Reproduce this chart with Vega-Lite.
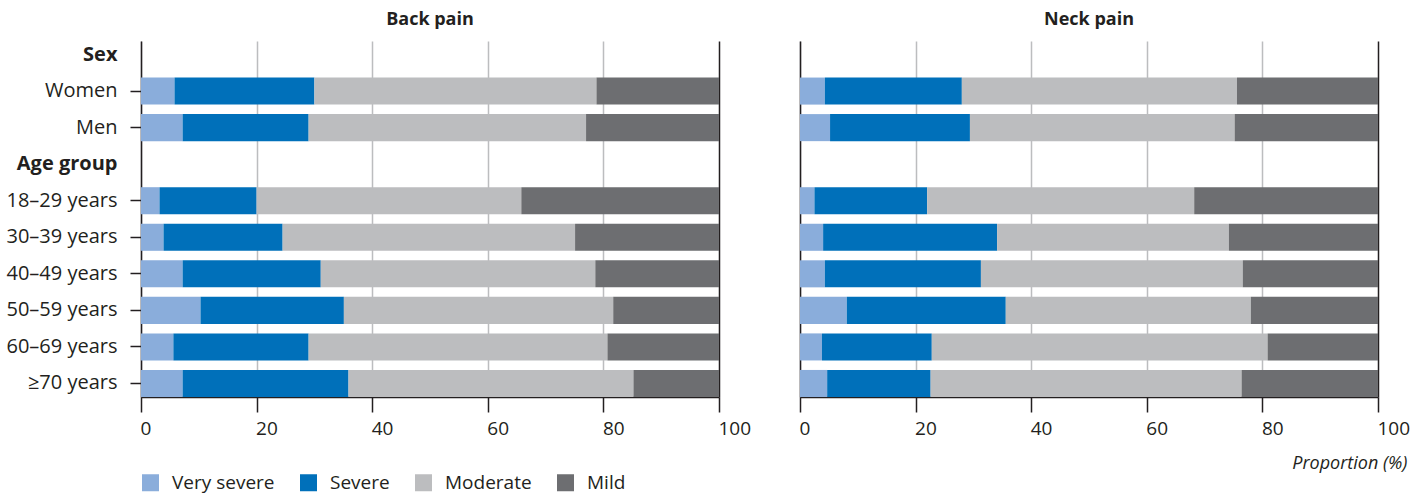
{
  "$schema": "https://vega.github.io/schema/vega-lite/v6.json",
  "padding": {"left": 5, "top": 11, "right": 20, "bottom": 0},
  "bounds": "flush",
  "spacing": 81,
  "config": {
    "font": "Open Sans",
    "view": {"stroke": null},
    "title": {"fontSize": 18, "fontWeight": "bold", "color": "#231f20", "offset": 12, "anchor": "middle"},
    "legend": {"orient": "bottom", "direction": "horizontal", "title": null, "symbolType": "square", "symbolSize": 289, "symbolStrokeWidth": 0, "labelFontSize": 19, "labelColor": "#231f20", "labelOffset": 12, "labelLimit": 400, "columnPadding": 24, "offset": 1, "padding": 0}
  },
  "datasets": {
    "d": [
      {"pain": "Back pain", "group": "Women", "severity": "Very severe", "ord": 1, "value": 5.8},
      {"pain": "Back pain", "group": "Women", "severity": "Severe", "ord": 2, "value": 24.2},
      {"pain": "Back pain", "group": "Women", "severity": "Moderate", "ord": 3, "value": 48.8},
      {"pain": "Back pain", "group": "Women", "severity": "Mild", "ord": 4, "value": 21.2},
      {"pain": "Back pain", "group": "Men", "severity": "Very severe", "ord": 1, "value": 7.2},
      {"pain": "Back pain", "group": "Men", "severity": "Severe", "ord": 2, "value": 21.8},
      {"pain": "Back pain", "group": "Men", "severity": "Moderate", "ord": 3, "value": 48.0},
      {"pain": "Back pain", "group": "Men", "severity": "Mild", "ord": 4, "value": 23.0},
      {"pain": "Back pain", "group": "18–29 years", "severity": "Very severe", "ord": 1, "value": 3.2},
      {"pain": "Back pain", "group": "18–29 years", "severity": "Severe", "ord": 2, "value": 16.8},
      {"pain": "Back pain", "group": "18–29 years", "severity": "Moderate", "ord": 3, "value": 45.8},
      {"pain": "Back pain", "group": "18–29 years", "severity": "Mild", "ord": 4, "value": 34.2},
      {"pain": "Back pain", "group": "30–39 years", "severity": "Very severe", "ord": 1, "value": 3.9},
      {"pain": "Back pain", "group": "30–39 years", "severity": "Severe", "ord": 2, "value": 20.6},
      {"pain": "Back pain", "group": "30–39 years", "severity": "Moderate", "ord": 3, "value": 50.6},
      {"pain": "Back pain", "group": "30–39 years", "severity": "Mild", "ord": 4, "value": 24.9},
      {"pain": "Back pain", "group": "40–49 years", "severity": "Very severe", "ord": 1, "value": 7.2},
      {"pain": "Back pain", "group": "40–49 years", "severity": "Severe", "ord": 2, "value": 23.9},
      {"pain": "Back pain", "group": "40–49 years", "severity": "Moderate", "ord": 3, "value": 47.5},
      {"pain": "Back pain", "group": "40–49 years", "severity": "Mild", "ord": 4, "value": 21.4},
      {"pain": "Back pain", "group": "50–59 years", "severity": "Very severe", "ord": 1, "value": 10.3},
      {"pain": "Back pain", "group": "50–59 years", "severity": "Severe", "ord": 2, "value": 24.8},
      {"pain": "Back pain", "group": "50–59 years", "severity": "Moderate", "ord": 3, "value": 46.6},
      {"pain": "Back pain", "group": "50–59 years", "severity": "Mild", "ord": 4, "value": 18.3},
      {"pain": "Back pain", "group": "60–69 years", "severity": "Very severe", "ord": 1, "value": 5.6},
      {"pain": "Back pain", "group": "60–69 years", "severity": "Severe", "ord": 2, "value": 23.4},
      {"pain": "Back pain", "group": "60–69 years", "severity": "Moderate", "ord": 3, "value": 51.7},
      {"pain": "Back pain", "group": "60–69 years", "severity": "Mild", "ord": 4, "value": 19.3},
      {"pain": "Back pain", "group": "≥70 years", "severity": "Very severe", "ord": 1, "value": 7.2},
      {"pain": "Back pain", "group": "≥70 years", "severity": "Severe", "ord": 2, "value": 28.7},
      {"pain": "Back pain", "group": "≥70 years", "severity": "Moderate", "ord": 3, "value": 49.3},
      {"pain": "Back pain", "group": "≥70 years", "severity": "Mild", "ord": 4, "value": 14.8},
      {"pain": "Neck pain", "group": "Women", "severity": "Very severe", "ord": 1, "value": 4.3},
      {"pain": "Neck pain", "group": "Women", "severity": "Severe", "ord": 2, "value": 23.7},
      {"pain": "Neck pain", "group": "Women", "severity": "Moderate", "ord": 3, "value": 47.6},
      {"pain": "Neck pain", "group": "Women", "severity": "Mild", "ord": 4, "value": 24.4},
      {"pain": "Neck pain", "group": "Men", "severity": "Very severe", "ord": 1, "value": 5.2},
      {"pain": "Neck pain", "group": "Men", "severity": "Severe", "ord": 2, "value": 24.2},
      {"pain": "Neck pain", "group": "Men", "severity": "Moderate", "ord": 3, "value": 45.8},
      {"pain": "Neck pain", "group": "Men", "severity": "Mild", "ord": 4, "value": 24.8},
      {"pain": "Neck pain", "group": "18–29 years", "severity": "Very severe", "ord": 1, "value": 2.5},
      {"pain": "Neck pain", "group": "18–29 years", "severity": "Severe", "ord": 2, "value": 19.5},
      {"pain": "Neck pain", "group": "18–29 years", "severity": "Moderate", "ord": 3, "value": 46.2},
      {"pain": "Neck pain", "group": "18–29 years", "severity": "Mild", "ord": 4, "value": 31.8},
      {"pain": "Neck pain", "group": "30–39 years", "severity": "Very severe", "ord": 1, "value": 4.0},
      {"pain": "Neck pain", "group": "30–39 years", "severity": "Severe", "ord": 2, "value": 30.1},
      {"pain": "Neck pain", "group": "30–39 years", "severity": "Moderate", "ord": 3, "value": 40.1},
      {"pain": "Neck pain", "group": "30–39 years", "severity": "Mild", "ord": 4, "value": 25.8},
      {"pain": "Neck pain", "group": "40–49 years", "severity": "Very severe", "ord": 1, "value": 4.3},
      {"pain": "Neck pain", "group": "40–49 years", "severity": "Severe", "ord": 2, "value": 27.0},
      {"pain": "Neck pain", "group": "40–49 years", "severity": "Moderate", "ord": 3, "value": 45.3},
      {"pain": "Neck pain", "group": "40–49 years", "severity": "Mild", "ord": 4, "value": 23.4},
      {"pain": "Neck pain", "group": "50–59 years", "severity": "Very severe", "ord": 1, "value": 8.1},
      {"pain": "Neck pain", "group": "50–59 years", "severity": "Severe", "ord": 2, "value": 27.5},
      {"pain": "Neck pain", "group": "50–59 years", "severity": "Moderate", "ord": 3, "value": 42.4},
      {"pain": "Neck pain", "group": "50–59 years", "severity": "Mild", "ord": 4, "value": 22.0},
      {"pain": "Neck pain", "group": "60–69 years", "severity": "Very severe", "ord": 1, "value": 3.8},
      {"pain": "Neck pain", "group": "60–69 years", "severity": "Severe", "ord": 2, "value": 19.0},
      {"pain": "Neck pain", "group": "60–69 years", "severity": "Moderate", "ord": 3, "value": 58.1},
      {"pain": "Neck pain", "group": "60–69 years", "severity": "Mild", "ord": 4, "value": 19.1},
      {"pain": "Neck pain", "group": "≥70 years", "severity": "Very severe", "ord": 1, "value": 4.7},
      {"pain": "Neck pain", "group": "≥70 years", "severity": "Severe", "ord": 2, "value": 17.9},
      {"pain": "Neck pain", "group": "≥70 years", "severity": "Moderate", "ord": 3, "value": 53.8},
      {"pain": "Neck pain", "group": "≥70 years", "severity": "Mild", "ord": 4, "value": 23.6}
    ]
  },
  "data": {"name": "d"},
  "hconcat": [
    {
      "width": 578,
      "height": 356,
      "title": {"text": "Back pain"},
      "transform": [{"filter": "datum.pain === 'Back pain'"}],
      "mark": {"type": "bar"},
      "encoding": {
        "y": {
          "field": "group", "type": "nominal",
          "scale": {"domain": ["Sex", "Women", "Men", "Age group", "18–29 years", "30–39 years", "40–49 years", "50–59 years", "60–69 years", "≥70 years"], "paddingInner": 0.26, "paddingOuter": 0},
          "axis": {
            "title": null, "grid": false, "domain": true, "domainColor": "#231f20", "domainWidth": 1.5,
            "ticks": true, "tickSize": 11, "tickWidth": 1.5,
            "tickColor": {"condition": {"test": "datum.value === 'Sex' || datum.value === 'Age group'", "value": "transparent"}, "value": "#231f20"},
            "labelPadding": 13, "labelFontSize": 20, "labelColor": "#231f20", "labelLimit": 300,
            "labelFontWeight": {"condition": {"test": "datum.value === 'Sex' || datum.value === 'Age group'", "value": "bold"}, "value": "normal"},
            "minExtent": 136, "maxExtent": 136
          }
        },
        "x": {
          "field": "value", "type": "quantitative", "stack": "zero",
          "scale": {"domain": [0, 100], "nice": false},
          "axis": {
            "title": null, "values": [0, 20, 40, 60, 80, 100], "grid": true,
            "gridColor": {"condition": {"test": "datum.value === 100", "value": "#231f20"}, "value": "#bcbdbf"},
            "gridWidth": 1.5, "domainColor": "#231f20", "domainWidth": 1.5,
            "tickColor": "#231f20", "tickSize": 15, "tickWidth": 1.5,
            "labelFontSize": 19, "labelPadding": 7, "labelColor": "#231f20", "labelFlush": false, "labelAlign": "left", "labelOffset": -1
          }
        },
        "color": {
          "field": "severity", "type": "nominal",
          "scale": {"domain": ["Very severe", "Severe", "Moderate", "Mild"], "range": ["#8aaddb", "#0070ba", "#bcbdbf", "#6d6e71"]}
        },
        "order": {"field": "ord", "type": "quantitative"}
      }
    },
    {
      "width": 578,
      "height": 356,
      "title": {"text": "Neck pain"},
      "transform": [{"filter": "datum.pain === 'Neck pain'"}],
      "mark": {"type": "bar"},
      "encoding": {
        "y": {
          "field": "group", "type": "nominal",
          "scale": {"domain": ["Sex", "Women", "Men", "Age group", "18–29 years", "30–39 years", "40–49 years", "50–59 years", "60–69 years", "≥70 years"], "paddingInner": 0.26, "paddingOuter": 0},
          "axis": {"title": null, "grid": false, "labels": false, "ticks": false, "domain": true, "domainColor": "#231f20", "domainWidth": 1.5, "minExtent": 0, "maxExtent": 0}
        },
        "x": {
          "field": "value", "type": "quantitative", "stack": "zero",
          "scale": {"domain": [0, 100], "nice": false},
          "axis": {
            "title": "Proportion (%)", "titleFontStyle": "italic", "titleFontWeight": "normal", "titleFontSize": 18, "titleColor": "#231f20",
            "titleAnchor": "end", "titleAlign": "right", "titleX": 607, "titlePadding": 16,
            "values": [0, 20, 40, 60, 80, 100], "grid": true,
            "gridColor": {"condition": {"test": "datum.value === 100", "value": "#231f20"}, "value": "#bcbdbf"},
            "gridWidth": 1.5, "domainColor": "#231f20", "domainWidth": 1.5,
            "tickColor": "#231f20", "tickSize": 15, "tickWidth": 1.5,
            "labelFontSize": 19, "labelPadding": 7, "labelColor": "#231f20", "labelFlush": false, "labelAlign": "left", "labelOffset": -1
          }
        },
        "color": {
          "field": "severity", "type": "nominal",
          "scale": {"domain": ["Very severe", "Severe", "Moderate", "Mild"], "range": ["#8aaddb", "#0070ba", "#bcbdbf", "#6d6e71"]}
        },
        "order": {"field": "ord", "type": "quantitative"}
      }
    }
  ],
  "resolve": {"scale": {"y": "independent", "x": "independent"}}
}
